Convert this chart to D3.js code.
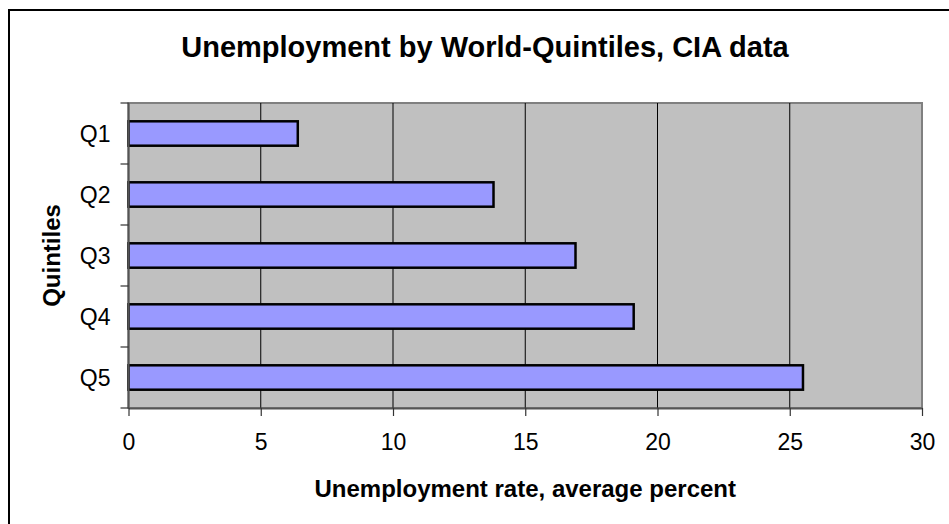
<!DOCTYPE html>
<html>
<head>
<meta charset="utf-8">
<script src="https://cdn.jsdelivr.net/npm/d3@7"></script>
<style>
  html, body { margin: 0; padding: 0; background: #fff; }
  svg { display: block; font-family: "Liberation Sans", Arial, sans-serif; }
</style>
</head>
<body>
<svg id="chart" width="949" height="524"></svg>
<script>
// Average unemployment rate per world quintile (CIA data)
const quintiles = ["Q1", "Q2", "Q3", "Q4", "Q5"];
const unemployment = [6.4, 13.8, 16.9, 19.1, 25.5];
const xTicks = [0, 5, 10, 15, 20, 25, 30];

const svg = d3.select("#chart");
const plot = { left: 128.5, top: 103, right: 922, bottom: 408 };

// Chart frame
svg.append("rect")
  .attr("x", 9).attr("y", 10)
  .attr("width", 1000).attr("height", 600)
  .attr("fill", "#fff").attr("stroke", "#000").attr("stroke-width", 2);

const x = d3.scaleLinear().domain([0, 30]).range([plot.left, plot.right]);
const y = d3.scaleBand().domain(quintiles).range([plot.top, plot.bottom]).paddingInner(0.6).paddingOuter(0.3);
const yEdge = d3.scaleLinear().domain([0, quintiles.length]).range([plot.top, plot.bottom]);

// Plot area
svg.append("rect")
  .attr("x", plot.left).attr("y", plot.top)
  .attr("width", plot.right - plot.left).attr("height", plot.bottom - plot.top)
  .attr("fill", "#c0c0c0").attr("stroke", "#808080").attr("stroke-width", 2);

// Vertical gridlines
svg.append("g").selectAll("line")
  .data(xTicks.filter(t => t > 0 && t < 30))
  .join("line")
  .attr("x1", d => x(d)).attr("x2", d => x(d))
  .attr("y1", plot.top).attr("y2", plot.bottom)
  .attr("stroke", "#000").attr("stroke-width", 1);

// Bars
svg.append("g").selectAll("rect")
  .data(quintiles)
  .join("rect")
  .attr("x", x(0))
  .attr("y", d => y(d))
  .attr("width", (d, i) => x(unemployment[i]) - x(0))
  .attr("height", y.bandwidth())
  .attr("fill", "#9999ff").attr("stroke", "#000").attr("stroke-width", 2.5);

// X axis
const xAxis = svg.append("g")
  .attr("transform", `translate(0,${plot.bottom})`)
  .call(d3.axisBottom(x).tickValues(xTicks).tickSize(8).tickPadding(18).tickSizeOuter(0));
xAxis.select(".domain").attr("stroke", "#555").attr("stroke-width", 2);
xAxis.selectAll(".tick line").attr("stroke", "#333").attr("stroke-width", 1.2);
xAxis.selectAll("text").attr("font-size", 23).attr("fill", "#000")
  .attr("font-family", "Liberation Sans, Arial, sans-serif");

// Y axis: labels at band centers, ticks at band edges
const yAxisG = svg.append("g").attr("transform", `translate(${plot.left},0)`);
yAxisG.append("line")
  .attr("x1", 0).attr("x2", 0).attr("y1", plot.top).attr("y2", plot.bottom)
  .attr("stroke", "#555").attr("stroke-width", 2);
yAxisG.selectAll("line.tk")
  .data(d3.range(quintiles.length + 1))
  .join("line").attr("class", "tk")
  .attr("x1", -8).attr("x2", 0)
  .attr("y1", d => yEdge(d)).attr("y2", d => yEdge(d))
  .attr("stroke", "#333").attr("stroke-width", 1.2);
yAxisG.selectAll("text")
  .data(quintiles)
  .join("text")
  .attr("x", -18)
  .attr("y", d => y(d) + y.bandwidth() / 2 + 8)
  .attr("text-anchor", "end")
  .attr("font-size", 23)
  .text(d => d);

// Titles
svg.append("text")
  .attr("x", 485).attr("y", 57)
  .attr("text-anchor", "middle")
  .attr("font-size", 29).attr("font-weight", "bold")
  .text("Unemployment by World-Quintiles, CIA data");

svg.append("text")
  .attr("x", (plot.left + plot.right) / 2).attr("y", 497)
  .attr("text-anchor", "middle")
  .attr("font-size", 24).attr("font-weight", "bold")
  .text("Unemployment rate, average percent");

svg.append("text")
  .attr("transform", `translate(60,${(plot.top + plot.bottom) / 2}) rotate(-90)`)
  .attr("text-anchor", "middle")
  .attr("font-size", 24).attr("font-weight", "bold")
  .text("Quintiles");
</script>
</body>
</html>
